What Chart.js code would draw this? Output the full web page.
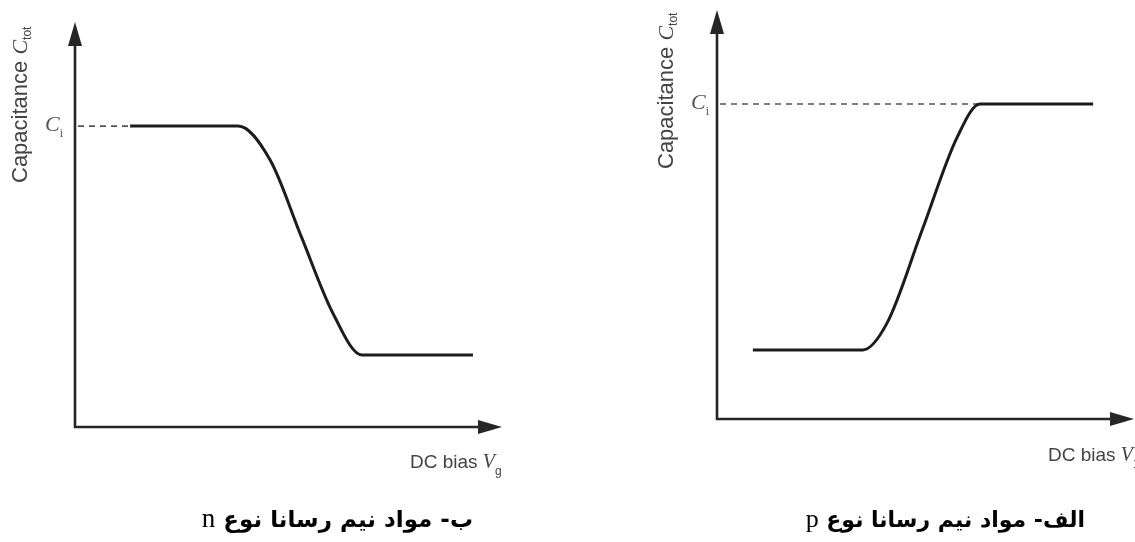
<!DOCTYPE html>
<html>
<head>
<meta charset="utf-8">
<script src="https://cdn.jsdelivr.net/npm/chart.js@4.4.1/dist/chart.umd.min.js"></script>
<style>
  html, body { margin: 0; padding: 0; background: #ffffff; }
  #wrap { position: relative; width: 1135px; height: 542px; overflow: hidden; background: #fff; }
  canvas { position: absolute; top: 0; }
  #cvN { left: 0; }
  #cvP { left: 567px; }
  .caption {
    position: absolute; top: 503px; direction: rtl; white-space: nowrap;
    font-family: "DejaVu Sans", sans-serif; font-weight: bold; font-size: 23px; color: #000;
  }
  .caption .latin { font-family: "Liberation Serif", serif; font-weight: normal; font-size: 27px; }
  #capP { font-size: 22px; top: 504px; }
  #capP .latin { font-size: 26px; }
</style>
</head>
<body>
<div id="wrap">
  <canvas id="cvN" width="567" height="542"></canvas>
  <canvas id="cvP" width="568" height="542"></canvas>
  <div class="caption" id="capN" style="right:662px;">ب- مواد نیم رسانا نوع <span class="latin">n</span></div>
  <div class="caption" id="capP" style="right:50px;">الف- مواد نیم رسانا نوع <span class="latin">p</span></div>
</div>
<script>
// C–V curve of an MIS capacitor on n-type material (capacitance vs. DC gate bias)
const biasN = [1.29, 3.82, 4.57, 5.30, 6.04, 6.72, 9.32];
const capN  = [7.43, 7.43, 6.59, 4.70, 2.81, 1.78, 1.78];

// C–V curve on p-type material
const biasP = [0.86, 3.50, 4.08, 4.92, 5.76, 6.31, 9.02];
const capP  = [1.69, 1.69, 2.35, 4.62, 6.89, 7.70, 7.70];

// insulator capacitance level marked on each plot
const ciN = 7.43;
const ciP = 7.70;

const AXIS_COLOR = '#262626';
const CURVE_COLOR = '#1c1c1c';
const TEXT_COLOR = '#444444';

function toPoints(xs, ys) { return xs.map((x, i) => ({ x: x, y: ys[i] })); }

function arrowHead(ctx, tipX, tipY, dir) {
  const len = 24, half = 7;
  ctx.beginPath();
  if (dir === 'up') {
    ctx.moveTo(tipX, tipY);
    ctx.lineTo(tipX - half, tipY + len);
    ctx.lineTo(tipX + half, tipY + len);
  } else {
    ctx.moveTo(tipX, tipY);
    ctx.lineTo(tipX - len, tipY - half);
    ctx.lineTo(tipX - len, tipY + half);
  }
  ctx.closePath();
  ctx.fill();
}

// draws axes with arrows, the dashed C_i guide and the axis captions
function cvDecor(opts) {
  return {
    id: 'cvDecor',
    beforeDatasetsDraw(chart) {
      const ctx = chart.ctx;
      const a = chart.chartArea;
      const xs = chart.scales.x, ys = chart.scales.y;
      ctx.save();
      // dashed guide at the C_i level
      const yCi = ys.getPixelForValue(opts.ci);
      const ds = chart.data.datasets[0].data;
      const firstAt = ds.find(p => p.y === opts.ci);
      const xEnd = xs.getPixelForValue(firstAt.x);
      ctx.strokeStyle = '#555';
      ctx.lineWidth = 1.6;
      ctx.setLineDash([6, 5]);
      ctx.beginPath();
      ctx.moveTo(a.left + 3, yCi);
      ctx.lineTo(xEnd, yCi);
      ctx.stroke();
      ctx.setLineDash([]);

      // axes
      ctx.strokeStyle = AXIS_COLOR;
      ctx.fillStyle = AXIS_COLOR;
      ctx.lineWidth = 2.6;
      ctx.beginPath();
      ctx.moveTo(a.left, a.top + 10);
      ctx.lineTo(a.left, a.bottom);
      ctx.lineTo(a.right - 10, a.bottom);
      ctx.stroke();
      arrowHead(ctx, a.left, a.top, 'up');
      arrowHead(ctx, a.right, a.bottom, 'right');

      // C_i label
      ctx.fillStyle = '#555';
      ctx.textBaseline = 'middle';
      ctx.textAlign = 'left';
      ctx.font = 'italic 22px "Liberation Serif"';
      const cx = a.left - opts.ciOffset;
      ctx.fillText('C', cx, yCi - 1);
      const cw = ctx.measureText('C').width;
      ctx.font = '12px "Liberation Serif"';
      ctx.fillText('i', cx + cw, yCi + 8);

      // y-axis title, rotated
      ctx.save();
      ctx.translate(opts.yTitleX, opts.yTitleBottom);
      ctx.rotate(-Math.PI / 2);
      ctx.fillStyle = TEXT_COLOR;
      ctx.textBaseline = 'middle';
      ctx.font = '22px "Liberation Sans"';
      let px = 0;
      ctx.fillText('Capacitance ', px, 0);
      px += ctx.measureText('Capacitance ').width;
      ctx.font = 'italic 22px "Liberation Serif"';
      ctx.fillText('C', px, 0);
      px += ctx.measureText('C').width;
      ctx.font = '12px "Liberation Sans"';
      ctx.fillText('tot', px, 7);
      ctx.restore();

      // x-axis title
      ctx.fillStyle = TEXT_COLOR;
      ctx.textBaseline = 'middle';
      ctx.font = '19px "Liberation Sans"';
      let tx = opts.xTitleLeft;
      ctx.fillText('DC bias ', tx, opts.xTitleY);
      tx += ctx.measureText('DC bias ').width;
      ctx.font = 'italic 20px "Liberation Serif"';
      ctx.fillText('V', tx, opts.xTitleY);
      tx += ctx.measureText('V').width;
      ctx.font = '12px "Liberation Sans"';
      ctx.fillText(opts.xSub, tx, opts.xTitleY + 9);
      ctx.restore();
    }
  };
}

function makeChart(id, xs, ys, padding, decor) {
  return new Chart(document.getElementById(id), {
    type: 'line',
    data: {
      datasets: [{
        data: toPoints(xs, ys),
        borderColor: CURVE_COLOR,
        borderWidth: 3,
        pointRadius: 0,
        fill: false,
        cubicInterpolationMode: 'monotone'
      }]
    },
    options: {
      responsive: false,
      animation: false,
      events: [],
      layout: { padding: padding },
      plugins: { legend: { display: false }, tooltip: { enabled: false } },
      scales: {
        x: { type: 'linear', min: 0, max: 10, display: false },
        y: { type: 'linear', min: 0, max: 10, display: false }
      }
    },
    plugins: [cvDecor(decor)]
  });
}

makeChart('cvN', biasN, capN,
  { left: 75, top: 22, right: 65, bottom: 115 },
  { ci: ciN, ciOffset: 30, yTitleX: 21, yTitleBottom: 183, xTitleLeft: 410, xTitleY: 463, xSub: 'g' });

makeChart('cvP', biasP, capP,
  { left: 150, top: 10, right: 1, bottom: 123 },
  { ci: ciP, ciOffset: 26, yTitleX: 100, yTitleBottom: 169, xTitleLeft: 481, xTitleY: 456, xSub: '1' });
</script>
</body>
</html>
